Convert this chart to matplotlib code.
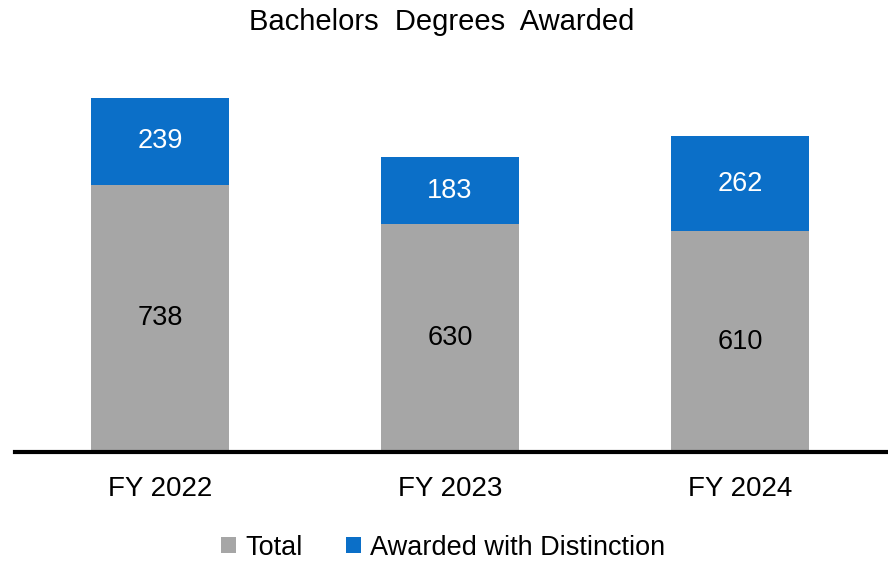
import matplotlib.pyplot as plt

years = ["FY 2022", "FY 2023", "FY 2024"]
total = [738, 630, 610]
distinction = [239, 183, 262]

gray = "#A6A6A6"
blue = "#0B6FC8"

plt.rcParams['font.family'] = ['Liberation Sans', 'DejaVu Sans']

fig = plt.figure(figsize=(8.88, 5.63), dpi=100)
ax = fig.add_axes([15 / 888, 111 / 563, 873 / 888, 392 / 563])

x = range(len(years))
b1 = ax.bar(x, total, width=0.476, color=gray, label="Total")
b2 = ax.bar(x, distinction, width=0.476, bottom=total, color=blue,
            label="Awarded with Distinction")

for i in x:
    ax.text(i, total[i] / 2, str(total[i]), ha="center", va="center",
            fontsize=19.5, color="black")
    ax.text(i, total[i] + distinction[i] / 2, str(distinction[i]),
            ha="center", va="center", fontsize=19.5, color="white")

ax.set_xlim(-0.5, 2.51)
ax.set_ylim(0, 1082)
ax.set_xticks(list(x))
ax.set_xticklabels(years, fontsize=20)
ax.tick_params(axis="x", length=0, pad=17)
ax.set_yticks([])
for s in ["top", "right", "left"]:
    ax.spines[s].set_visible(False)
ax.spines["bottom"].set_linewidth(3)
ax.spines["bottom"].set_color("black")

fig.text(0.497, 0.961, "Bachelors  Degrees  Awarded", ha="center", va="center",
         fontsize=21)

fig.legend(handles=[b1, b2], loc="center", bbox_to_anchor=(0.499, 0.027),
           ncol=2, frameon=False, fontsize=19.5, handlelength=0.55,
           handleheight=0.55, handletextpad=0.35, columnspacing=1.6)

fig.savefig("out.png", dpi=100)
